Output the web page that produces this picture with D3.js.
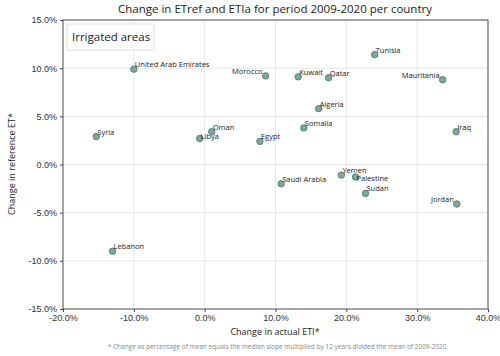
<!DOCTYPE html>
<html lang="en">
<head>
<meta charset="UTF-8">
<title>Change in ETref and ETIa</title>
<style>
  body { margin: 0; background: #fff; font-family: 'Open Sans', 'Noto Sans', sans-serif; }
  .grid line { stroke: #e6e6e6; }
  .axis text { font-size: 9px; fill: #333; }
  .axis path, .axis line { stroke: #444; }
  .lbl { font-size: 7.5px; fill: #222; }
</style>
</head>
<body>
<svg id="chart" width="500" height="356"></svg>
<script src="https://d3js.org/d3.v7.min.js"></script>
<script>
// data
const countries = ["United Arab Emirates","Syria","Libya","Oman","Morocco","Egypt","Kuwait","Qatar","Tunisia","Mauritania","Algeria","Somalia","Iraq","Saudi Arabia","Yemen","Palestine","Sudan","Jordan","Lebanon"];
const etiChange = [-10.0,-15.3,-0.7,1.0,8.6,7.8,13.2,17.5,24.0,33.6,16.1,14.0,35.5,10.8,19.3,21.3,22.7,35.6,-13.0];
const etrefChange = [9.9,2.9,2.7,3.4,9.2,2.4,9.1,9.0,11.4,8.8,5.8,3.8,3.4,-2.0,-1.1,-1.3,-3.0,-4.1,-9.0];
const xTicks = [-20,-10,0,10,20,30,40];
const yTicks = [-15,-10,-5,0,5,10,15];

const margin = {left: 63, right: 12, top: 20, bottom: 47};
const W = 500, H = 356;
const svg = d3.select("#chart");

const x = d3.scaleLinear().domain([-20, 40]).range([margin.left, W - margin.right]);
const y = d3.scaleLinear().domain([-15, 15]).range([H - margin.bottom, margin.top]);
const fmt = d => d.toFixed(1) + "%";

// grid
svg.append("g").attr("class", "grid")
  .selectAll("line.v").data(xTicks).enter().append("line")
  .attr("x1", d => x(d)).attr("x2", d => x(d))
  .attr("y1", y(-15)).attr("y2", y(15));
svg.append("g").attr("class", "grid")
  .selectAll("line.h").data(yTicks).enter().append("line")
  .attr("y1", d => y(d)).attr("y2", d => y(d))
  .attr("x1", x(-20)).attr("x2", x(40));

// frame
svg.append("rect")
  .attr("x", x(-20)).attr("y", y(15))
  .attr("width", x(40) - x(-20)).attr("height", y(-15) - y(15))
  .attr("fill", "none").attr("stroke", "#555").attr("stroke-width", 1);

// axes
svg.append("g").attr("class", "axis")
  .attr("transform", `translate(0,${y(-15)})`)
  .call(d3.axisBottom(x).tickValues(xTicks).tickFormat(fmt).tickSize(3));
svg.append("g").attr("class", "axis")
  .attr("transform", `translate(${x(-20)},0)`)
  .call(d3.axisLeft(y).tickValues(yTicks).tickFormat(fmt).tickSize(3));
svg.selectAll(".axis .domain").remove();

// title & axis labels
svg.append("text").attr("x", 275).attr("y", 13).attr("text-anchor", "middle")
  .style("font-size", "11.5px").style("fill", "#222")
  .text("Change in ETref and ETIa for period 2009-2020 per country");
svg.append("text").attr("x", 275).attr("y", 335).attr("text-anchor", "middle")
  .style("font-size", "9px").style("fill", "#222").text("Change in actual ETI*");
svg.append("text").attr("transform", "translate(15,164) rotate(-90)").attr("text-anchor", "middle")
  .style("font-size", "9px").style("fill", "#222").text("Change in reference ET*");
svg.append("text").attr("x", 278).attr("y", 349).attr("text-anchor", "middle")
  .style("font-size", "6.5px").style("fill", "#888")
  .text("* Change as percentage of mean equals the median slope multiplied by 12 years divided the mean of 2009-2020.");

// legend box
svg.append("rect").attr("x", 67).attr("y", 24).attr("width", 87).attr("height", 26)
  .attr("fill", "#fff").attr("stroke", "#ddd");
svg.append("text").attr("x", 72).attr("y", 41).style("font-size", "11.5px").style("fill", "#222")
  .text("Irrigated areas");

// points
const pts = countries.map((c, i) => ({c, x: etiChange[i], y: etrefChange[i]}));
svg.append("g").selectAll("circle").data(pts).enter().append("circle")
  .attr("cx", d => x(d.x)).attr("cy", d => y(d.y)).attr("r", 3.2)
  .attr("fill", "#7fa89a").attr("stroke", "#5b8275").attr("stroke-width", 1);

// label placement: right-above by default, some to the left or below
const leftSide = ["Morocco", "Mauritania", "Jordan"];
const below = ["Palestine"];
svg.append("g").selectAll("text").data(pts).enter().append("text")
  .attr("class", "lbl")
  .attr("x", d => leftSide.includes(d.c) ? x(d.x) - 3 : x(d.x) + 1)
  .attr("y", d => below.includes(d.c) ? y(d.y) + 4 : d.c === "Libya" ? y(d.y) + 1 : y(d.y) - 2)
  .attr("text-anchor", d => leftSide.includes(d.c) ? "end" : "start")
  .text(d => d.c);
</script>
</body>
</html>
